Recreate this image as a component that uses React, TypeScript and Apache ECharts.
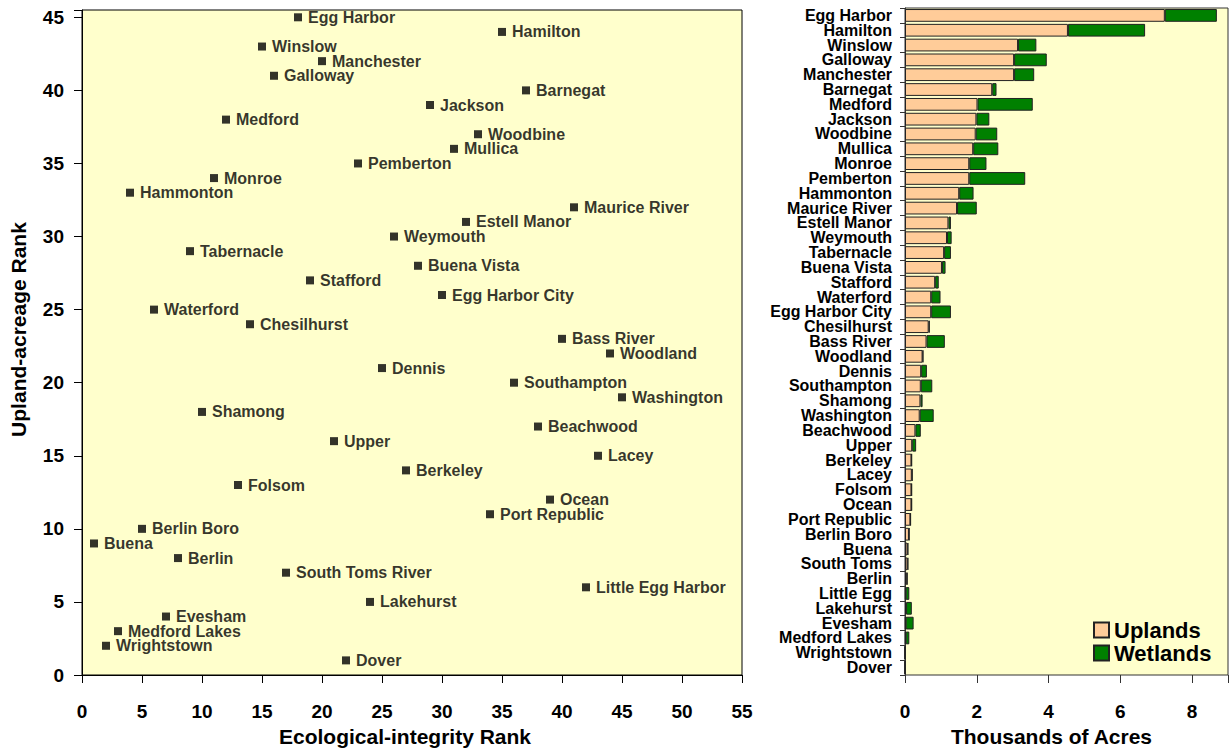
import React, { useEffect, useRef } from "react";
import * as echarts from "echarts";

// Scatter: ecological-integrity rank vs upland-acreage rank
const scatterNames = [
  "Egg Harbor", "Hamilton", "Winslow", "Manchester", "Galloway", "Barnegat", "Jackson", "Medford",
  "Woodbine", "Mullica", "Pemberton", "Monroe", "Hammonton", "Maurice River", "Estell Manor", "Weymouth",
  "Tabernacle", "Buena Vista", "Stafford", "Egg Harbor City", "Waterford", "Chesilhurst", "Bass River",
  "Woodland", "Dennis", "Southampton", "Washington", "Shamong", "Beachwood", "Upper", "Lacey", "Berkeley",
  "Folsom", "Ocean", "Port Republic", "Berlin Boro", "Buena", "Berlin", "South Toms River",
  "Little Egg Harbor", "Lakehurst", "Evesham", "Medford Lakes", "Wrightstown", "Dover",
];
const ecologicalRank = [
  18, 35, 15, 20, 16, 37, 29, 12, 33, 31, 23, 11, 4, 41, 32, 26, 9, 28, 19, 30, 6, 14, 40, 44, 25, 36, 45,
  10, 38, 21, 43, 27, 13, 39, 34, 5, 1, 8, 17, 42, 24, 7, 3, 2, 22,
];
const uplandRank = [
  45, 44, 43, 42, 41, 40, 39, 38, 37, 36, 35, 34, 33, 32, 31, 30, 29, 28, 27, 26, 25, 24, 23, 22, 21, 20, 19,
  18, 17, 16, 15, 14, 13, 12, 11, 10, 9, 8, 7, 6, 5, 4, 3, 2, 1,
];

// Bars: thousands of acres
const barCategories = [
  "Egg Harbor", "Hamilton", "Winslow", "Galloway", "Manchester", "Barnegat", "Medford", "Jackson",
  "Woodbine", "Mullica", "Monroe", "Pemberton", "Hammonton", "Maurice River", "Estell Manor", "Weymouth",
  "Tabernacle", "Buena Vista", "Stafford", "Waterford", "Egg Harbor City", "Chesilhurst", "Bass River",
  "Woodland", "Dennis", "Southampton", "Shamong", "Washington", "Beachwood", "Upper", "Berkeley", "Lacey",
  "Folsom", "Ocean", "Port Republic", "Berlin Boro", "Buena", "South Toms", "Berlin", "Little Egg",
  "Lakehurst", "Evesham", "Medford Lakes", "Wrightstown", "Dover",
];
const uplands = [
  7.24, 4.54, 3.15, 3.04, 3.04, 2.43, 2.02, 1.99, 1.97, 1.9, 1.79, 1.79, 1.51, 1.45, 1.21, 1.17, 1.09, 1.03,
  0.84, 0.73, 0.73, 0.66, 0.6, 0.49, 0.45, 0.44, 0.43, 0.41, 0.29, 0.2, 0.18, 0.19, 0.18, 0.18, 0.15, 0.11,
  0.07, 0.07, 0.05, 0.02, 0.03, 0.02, 0.02, 0, 0,
];
const wetlands = [
  1.45, 2.15, 0.51, 0.91, 0.56, 0.12, 1.54, 0.36, 0.6, 0.7, 0.48, 1.56, 0.4, 0.55, 0.07, 0.13, 0.19, 0.1,
  0.1, 0.26, 0.55, 0.03, 0.51, 0.02, 0.16, 0.32, 0.06, 0.39, 0.15, 0.11, 0.01, 0.02, 0.01, 0.01, 0.01, 0.01,
  0.02, 0.02, 0.02, 0.1, 0.16, 0.22, 0.1, 0, 0,
];

const FONT = "'Liberation Sans', Arial, sans-serif";
const BG = "#FFFFCC";

export default function App() {
  const ref = useRef<HTMLDivElement>(null);
  useEffect(() => {
    if (!ref.current) return;
    const chart = echarts.init(ref.current, null, { renderer: "svg" });
    const scatterData = scatterNames.map((n, i) => ({ name: n, value: [ecologicalRank[i], uplandRank[i]] }));
    const tickLabel = { color: "#000", fontFamily: FONT, fontWeight: "bold" as const, fontSize: 19 };
    const titleStyle = { color: "#000", fontFamily: FONT, fontWeight: "bold" as const, fontSize: 21 };
    chart.setOption({
      animation: false,
      backgroundColor: "#fff",
      textStyle: { fontFamily: FONT },
      legend: {
        data: ["Uplands", "Wetlands"],
        orient: "vertical",
        left: 1093,
        top: 619,
        padding: 0,
        itemGap: 1,
        itemWidth: 15,
        itemHeight: 15,
        icon: "rect",
        textStyle: { color: "#000", fontFamily: FONT, fontWeight: "bold", fontSize: 22 },
      },
      grid: [
        { left: 79, right: 489, top: 10, bottom: 77, show: true, backgroundColor: BG, borderColor: "#000", borderWidth: 1 },
        { left: 905, right: 3, top: 8, bottom: 77, show: true, backgroundColor: BG, borderColor: "#333", borderWidth: 1 },
      ],
      xAxis: [
        {
          gridIndex: 0,
          type: "value",
          min: 0,
          max: 55,
          interval: 5,
          name: "Ecological-integrity Rank",
          nameLocation: "middle",
          nameGap: 44,
          nameTextStyle: { ...titleStyle, padding: [0, 14, 0, 0] },
          axisLine: { lineStyle: { color: "#000" } },
          axisTick: { show: true, length: 8, lineStyle: { color: "#000" } },
          axisLabel: { ...tickLabel, margin: 27 },
          splitLine: { show: false },
        },
        {
          gridIndex: 1,
          type: "value",
          min: 0,
          max: 9,
          interval: 2,
          name: "Thousands of Acres",
          nameLocation: "middle",
          nameGap: 44,
          nameTextStyle: { ...titleStyle, padding: [0, 30, 0, 0] },
          axisLine: { lineStyle: { color: "#333" } },
          axisTick: { show: true, length: 8, lineStyle: { color: "#333" } },
          axisLabel: { ...tickLabel, margin: 27, formatter: (v: number) => (v % 2 === 0 ? String(v) : "") },
          splitLine: { show: false },
        },
      ],
      yAxis: [
        {
          gridIndex: 0,
          type: "value",
          min: 0,
          max: 45.5,
          interval: 5,
          name: "Upland-acreage Rank",
          nameLocation: "middle",
          nameGap: 53,
          nameRotate: 90,
          nameTextStyle: { ...titleStyle, padding: [0, 0, 0, 26] },
          axisLine: { show: true, lineStyle: { color: "#000" } },
          axisTick: { show: true, length: 8, lineStyle: { color: "#000" } },
          axisLabel: { ...tickLabel, margin: 18, formatter: (v: number) => (v % 5 === 0 ? String(v) : "") },
          splitLine: { show: false },
        },
        {
          gridIndex: 1,
          type: "category",
          data: barCategories,
          inverse: true,
          axisLine: { show: true, lineStyle: { color: "#333" } },
          axisTick: { show: true, length: 5, alignWithLabel: false, lineStyle: { color: "#333" } },
          axisLabel: { color: "#000", fontFamily: FONT, fontWeight: "bold", fontSize: 16, margin: 13, interval: 0 },
          splitLine: { show: false },
        },
      ],
      series: [
        {
          type: "scatter",
          xAxisIndex: 0,
          yAxisIndex: 0,
          symbol: "rect",
          symbolSize: 8,
          itemStyle: { color: "#000" },
          data: scatterData,
          label: {
            show: true,
            position: "right",
            distance: 6,
            formatter: "{b}",
            color: "#000",
            fontFamily: FONT,
            fontWeight: "bold",
            fontSize: 16,
          },
        },
        {
          name: "Uplands",
          type: "bar",
          xAxisIndex: 1,
          yAxisIndex: 1,
          stack: "acres",
          barCategoryGap: "14%",
          data: uplands,
          itemStyle: { color: "#FFCC99", borderColor: "#222", borderWidth: 1 },
        },
        {
          name: "Wetlands",
          type: "bar",
          xAxisIndex: 1,
          yAxisIndex: 1,
          stack: "acres",
          barCategoryGap: "14%",
          data: wetlands,
          itemStyle: { color: "#008000", borderColor: "#222", borderWidth: 1 },
        },
      ],
    });
    return () => chart.dispose();
  }, []);
  return <div ref={ref} style={{ position: "fixed", left: 0, top: 0, width: 1231, height: 752 }} />;
}
